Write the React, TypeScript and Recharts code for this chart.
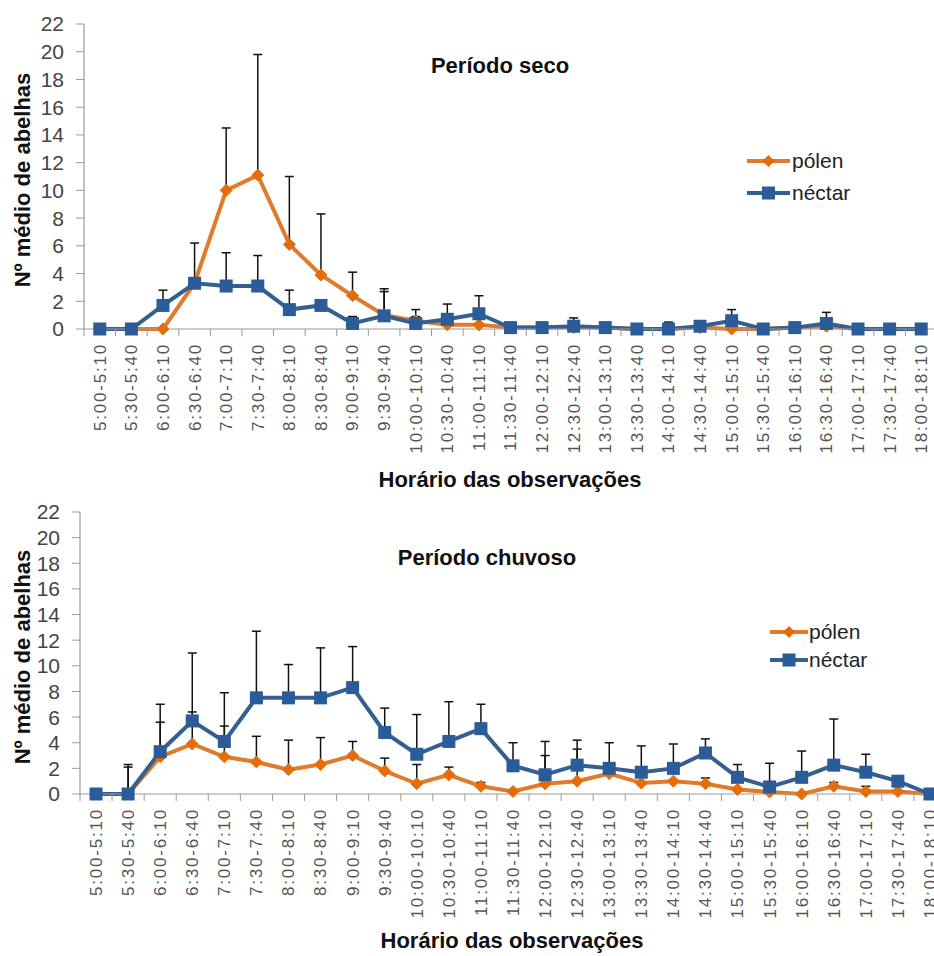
import React from 'react';
import { LineChart, Line, XAxis, YAxis, ErrorBar } from 'recharts';

const categories = [
  '5:00-5:10', '5:30-5:40', '6:00-6:10', '6:30-6:40', '7:00-7:10', '7:30-7:40',
  '8:00-8:10', '8:30-8:40', '9:00-9:10', '9:30-9:40', '10:00-10:10', '10:30-10:40',
  '11:00-11:10', '11:30-11:40', '12:00-12:10', '12:30-12:40', '13:00-13:10', '13:30-13:40',
  '14:00-14:10', '14:30-14:40', '15:00-15:10', '15:30-15:40', '16:00-16:10', '16:30-16:40',
  '17:00-17:10', '17:30-17:40', '18:00-18:10',
];

// Período seco
const polenSeco = [0, 0, 0, 3.3, 10, 11.1, 6.1, 3.9, 2.4, 1.0, 0.6, 0.3, 0.3, 0.1, 0.1, 0.1, 0.1, 0, 0, 0.1, 0, 0, 0.1, 0.2, 0, 0, 0];
const nectarSeco = [0, 0, 1.7, 3.3, 3.1, 3.1, 1.4, 1.7, 0.4, 0.95, 0.4, 0.7, 1.1, 0.1, 0.1, 0.2, 0.1, 0, 0, 0.2, 0.6, 0, 0.1, 0.4, 0, 0, 0];
const polenSecoSD = [null, null, null, 2.9, 4.5, 8.7, 4.9, 4.4, 1.7, 1.9, 0.8, null, null, null, null, null, null, null, null, null, null, null, null, null, null, null, null];
const nectarSecoSD = [null, null, 1.1, null, 2.4, 2.2, 1.4, null, 0.5, 1.75, 0.5, 1.1, 1.3, null, null, 0.6, null, null, 0.5, null, 0.8, null, null, 0.8, null, null, null];

// Período chuvoso
const polenChuvoso = [0, 0, 2.9, 3.9, 2.9, 2.5, 1.9, 2.3, 3.0, 1.8, 0.8, 1.5, 0.6, 0.2, 0.8, 1.0, 1.6, 0.85, 1.0, 0.8, 0.35, 0.15, 0, 0.6, 0.2, 0.2, 0];
const nectarChuvoso = [0, 0, 3.3, 5.7, 4.1, 7.5, 7.5, 7.5, 8.3, 4.8, 3.1, 4.1, 5.1, 2.2, 1.5, 2.25, 2.0, 1.7, 2.0, 3.2, 1.3, 0.55, 1.3, 2.25, 1.7, 1.0, 0];
const polenChuvosoSD = [null, 2.1, 2.7, 2.5, 2.4, 2.0, 2.3, 2.1, 1.1, 1.0, 1.5, 0.6, 0.3, null, 2.2, 2.5, null, null, null, 0.45, null, null, null, 0.3, 0.4, null, null];
const nectarChuvosoSD = [null, 2.3, 3.7, 5.3, 3.8, 5.2, 2.6, 3.9, 3.2, 1.9, 3.1, 3.1, 1.9, 1.8, 2.6, 1.95, 2.0, 2.05, 1.9, 1.1, 1.0, 1.85, 2.05, 3.6, 1.4, null, null];

const yTicks = [0, 2, 4, 6, 8, 10, 12, 14, 16, 18, 20, 22];
const xTicks: number[] = [];
for (let i = 0; i <= categories.length; i++) {
  xTicks.push(i - 0.5);
  if (i < categories.length) xTicks.push(i);
}

const FONT = "'Liberation Sans', Arial, sans-serif";
const ORANGE_LINE = '#E07A2C';
const ORANGE_MARK = '#E46C0A';
const BLUE_LINE = '#355F90';
const BLUE_MARK = '#2A5C9A';
const AXIS = '#9A9A9A';

function buildData(p: number[], n: number[], pe: (number | null)[], ne: (number | null)[]) {
  return categories.map((c, i) => ({
    idx: i,
    label: c,
    polen: p[i],
    nectar: n[i],
    polenErr: pe[i] != null ? [0, pe[i]] : null,
    nectarErr: ne[i] != null ? [0, ne[i]] : null,
  }));
}

const dataSeco = buildData(polenSeco, nectarSeco, polenSecoSD, nectarSecoSD);
const dataChuvoso = buildData(polenChuvoso, nectarChuvoso, polenChuvosoSD, nectarChuvosoSD);

const XTick = (props: any) => {
  const { x, y, payload } = props;
  const v = payload.value;
  if (Number.isInteger(v)) {
    const ty = y + 14;
    return (
      <text
        x={x}
        y={ty}
        transform={`rotate(-90 ${x} ${ty})`}
        textAnchor="end"
        dy="0.35em"
        fontSize={17}
        letterSpacing={1.8}
        fill="#555"
        fontFamily={FONT}
      >
        {categories[v]}
      </text>
    );
  }
  return <line x1={x} y1={y} x2={x} y2={y + 7} stroke={AXIS} strokeWidth={1} />;
};

const Diamond = (props: any) => {
  const { cx, cy } = props;
  if (cx == null || cy == null) return <g />;
  const r = 6;
  return (
    <path
      d={`M${cx},${cy - r} L${cx + r},${cy} L${cx},${cy + r} L${cx - r},${cy} Z`}
      fill={ORANGE_MARK}
      stroke={ORANGE_MARK}
      strokeWidth={1}
    />
  );
};

const Square = (props: any) => {
  const { cx, cy } = props;
  if (cx == null || cy == null) return <g />;
  const r = 6.5;
  return <rect x={cx - r} y={cy - r} width={2 * r} height={2 * r} fill={BLUE_MARK} />;
};

type PanelProps = {
  data: any[];
  width: number;
  height: number;
  top: number;
  yAxisWidth: number;
  marginTop: number;
  marginRight: number;
  xAxisHeight: number;
};

const Panel = ({ data, width, height, top, yAxisWidth, marginTop, marginRight, xAxisHeight }: PanelProps) => (
  <div style={{ position: 'absolute', left: 0, top, width, height }}>
    <LineChart width={width} height={height} data={data} margin={{ top: marginTop, right: marginRight, left: 0, bottom: 0 }}>
      <XAxis
        dataKey="idx"
        type="number"
        domain={[-0.5, categories.length - 0.5]}
        ticks={xTicks}
        interval={0}
        tick={<XTick />}
        tickLine={false}
        tickSize={0}
        tickMargin={0}
        height={xAxisHeight}
        stroke={AXIS}
        axisLine={{ stroke: AXIS, strokeWidth: 1.2 }}
      />
      <YAxis
        type="number"
        domain={[0, 22]}
        ticks={yTicks}
        interval={0}
        width={yAxisWidth}
        tickSize={8}
        tickMargin={12}
        stroke={AXIS}
        axisLine={{ stroke: AXIS, strokeWidth: 1.2 }}
        tickLine={{ stroke: AXIS }}
        tick={{ fontSize: 21, fill: '#444', fontFamily: FONT }}
      />
      <Line
        type="linear"
        dataKey="polen"
        stroke={ORANGE_LINE}
        strokeWidth={4}
        dot={<Diamond />}
        activeDot={false}
        isAnimationActive={false}
      >
        <ErrorBar dataKey="polenErr" direction="y" width={4.5} stroke="#111" strokeWidth={1.5} />
      </Line>
      <Line
        type="linear"
        dataKey="nectar"
        stroke={BLUE_LINE}
        strokeWidth={4}
        dot={<Square />}
        activeDot={false}
        isAnimationActive={false}
      >
        <ErrorBar dataKey="nectarErr" direction="y" width={4.5} stroke="#111" strokeWidth={1.5} />
      </Line>
    </LineChart>
  </div>
);

const LegendBlock = ({ x0, x1, tx, y1, y2 }: { x0: number; x1: number; tx: number; y1: number; y2: number }) => {
  const mid = (x0 + x1) / 2;
  return (
    <g fontFamily={FONT} fontSize={21} fill="#222">
      <line x1={x0} y1={y1} x2={x1} y2={y1} stroke={ORANGE_LINE} strokeWidth={4} />
      <path d={`M${mid},${y1 - 6} L${mid + 6},${y1} L${mid},${y1 + 6} L${mid - 6},${y1} Z`} fill={ORANGE_MARK} />
      <text x={tx} y={y1} dy="0.35em">pólen</text>
      <line x1={x0} y1={y2} x2={x1} y2={y2} stroke={BLUE_LINE} strokeWidth={4} />
      <rect x={mid - 6.5} y={y2 - 6.5} width={13} height={13} fill={BLUE_MARK} />
      <text x={tx} y={y2} dy="0.35em">néctar</text>
    </g>
  );
};

export default function App() {
  return (
    <div style={{ position: 'absolute', left: 0, top: 0, width: 934, height: 956, overflow: 'hidden', background: '#fff' }}>
      <Panel
        data={dataSeco}
        width={950}
        height={480}
        top={0}
        yAxisWidth={84}
        marginTop={24}
        marginRight={13}
        xAxisHeight={151}
      />
      <Panel
        data={dataChuvoso}
        width={960}
        height={476}
        top={480}
        yAxisWidth={80}
        marginTop={32}
        marginRight={14}
        xAxisHeight={162}
      />
      <svg
        width={934}
        height={956}
        style={{ position: 'absolute', left: 0, top: 0, pointerEvents: 'none' }}
      >
        <g fontFamily={FONT} fontWeight="bold" fontSize={22} fill="#111">
          <text x={500} y={73} textAnchor="middle">Período seco</text>
          <text x={487} y={565} textAnchor="middle">Período chuvoso</text>
          <text x={510} y={487} textAnchor="middle">Horário das observações</text>
          <text x={512} y={948} textAnchor="middle">Horário das observações</text>
          <text x={30} y={180} textAnchor="middle" transform="rotate(-90 30 180)">Nº médio de abelhas</text>
          <text x={30} y={657} textAnchor="middle" transform="rotate(-90 30 657)">Nº médio de abelhas</text>
        </g>
        <LegendBlock x0={747} x1={790} tx={792} y1={161} y2={193} />
        <LegendBlock x0={770} x1={808} tx={809} y1={632} y2={660} />
      </svg>
    </div>
  );
}
